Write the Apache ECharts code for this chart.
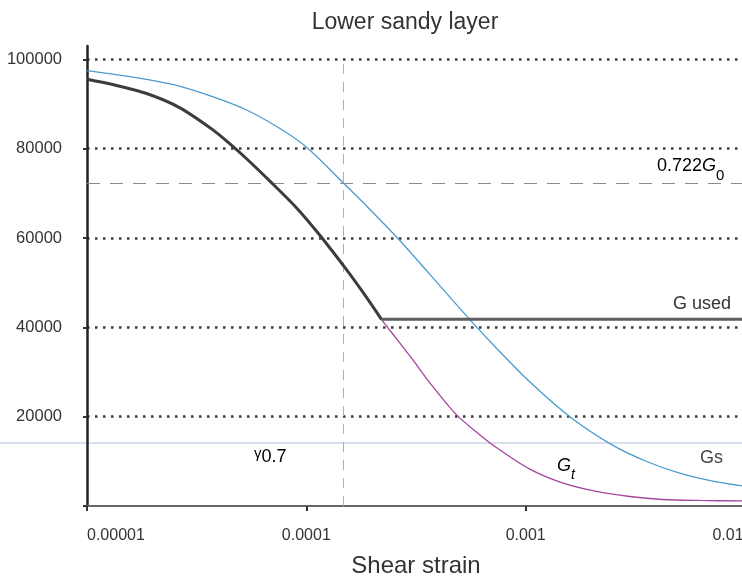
<!DOCTYPE html>
<html>
<head>
<meta charset="utf-8">
<script src="https://cdn.jsdelivr.net/npm/echarts@6/dist/echarts.min.js"></script>
<style>
html,body{margin:0;padding:0;background:#fff;}
#chart{width:742px;height:580px;}
</style>
</head>
<body>
<div id="chart"></div>
<script>
// ---- data ----
const xTickLabels = ['0.00001', '0.0001', '0.001', '0.01'];
const yTicks = [20000, 40000, 60000, 80000, 100000];

// Gs curve (secant modulus)
const gsStrain = [1e-5, 1.31e-5, 1.87e-5, 2.64e-5, 3.74e-5, 5.34e-5, 7.55e-5, 1.0e-4, 1.48e-4, 1.94e-4, 2.58e-4, 3.65e-4, 5.55e-4, 7.38e-4, 1.04e-3, 1.59e-3, 2.49e-3, 3.56e-3, 5.04e-3, 7.13e-3, 1.0e-2];
const gsValues = [97500, 96700, 95540, 94040, 91650, 88670, 84570, 80380, 72250, 66520, 60220, 51910, 41800, 35280, 27870, 20000, 13620, 9960, 7350, 5570, 4400];

// Gt curve (tangent modulus)
const gtStrain = [1e-5, 1.31e-5, 1.87e-5, 2.64e-5, 3.74e-5, 4.47e-5, 5.34e-5, 6.80e-5, 9.03e-5, 1.15e-4, 1.53e-4, 1.81e-4, 2.20e-4, 2.57e-4, 3.05e-4, 3.65e-4, 4.83e-4, 6.17e-4, 7.38e-4, 1.04e-3, 1.47e-3, 2.10e-3, 2.98e-3, 4.21e-3, 6.21e-3, 1.0e-2];
const gtValues = [95570, 94380, 92360, 89210, 84270, 81120, 77750, 72810, 66740, 60670, 52810, 47870, 41800, 37530, 32810, 27640, 20450, 15960, 13030, 8310, 5170, 3260, 2130, 1460, 1240, 1120];

// G used: Gt limited from below
const gUsedMin = 41800;
const g0 = 100000;
const g0Ratio = 0.722;
const gamma07 = 1.48e-4;

// ---- build series data ----
const gsData = gsStrain.map((s, i) => [s, gsValues[i]]);
const gtData = gtStrain.map((s, i) => [s, gtValues[i]]);
const usedCurve = [];
let kinkStrain = null;
for (let i = 0; i < gtStrain.length; i++) {
  if (gtValues[i] >= gUsedMin) usedCurve.push([gtStrain[i], gtValues[i]]);
  if (gtValues[i] <= gUsedMin && kinkStrain === null) kinkStrain = gtStrain[i];
}
const usedFlat = [[kinkStrain, gUsedMin], [gtStrain[gtStrain.length - 1], gUsedMin]];

const FONT = '"Liberation Sans", Arial, Helvetica, sans-serif';
const chart = echarts.init(document.getElementById('chart'), null, {renderer: 'canvas'});

chart.setOption({
  backgroundColor: '#ffffff',
  animation: false,
  textStyle: {fontFamily: FONT},
  title: {
    text: 'Lower sandy layer',
    left: 400, top: 6, textAlign: 'center',
    textStyle: {fontFamily: FONT, fontSize: 23, fontWeight: 'normal', color: '#333'}
  },
  grid: {left: 87, right: -3, top: 46, bottom: 74, containLabel: false, outerBoundsMode: 'none'},
  xAxis: {
    type: 'log', logBase: 10, min: 1e-5, max: 1e-2,
    name: 'Shear strain', nameLocation: 'middle', nameGap: 48,
    nameTextStyle: {fontFamily: FONT, fontSize: 24, color: '#333'},
    axisLine: {show: true, lineStyle: {color: '#666', width: 2}},
    axisTick: {show: true, inside: false, length: 5, lineStyle: {color: '#333', width: 2}},
    minorTick: {show: false},
    splitLine: {show: false},
    axisLabel: {
      fontFamily: FONT, fontSize: 16, color: '#333', margin: 22,
      alignMinLabel: 'left',
      formatter: v => {
        const idx = Math.round(Math.log10(v)) + 5;
        const t = xTickLabels[idx] || '';
        return idx === xTickLabels.length - 1 ? '{r|' + t + '}' : t;
      },
      rich: {r: {fontFamily: FONT, fontSize: 16, color: '#333', padding: [0, 34, 0, 0]}}
    }
  },
  yAxis: {
    type: 'value', min: 0, max: 103000, interval: 20000,
    axisLine: {show: true, lineStyle: {color: '#222', width: 2.5}},
    axisTick: {show: true, length: 4, lineStyle: {color: '#333', width: 2}},
    splitLine: {show: true, showMinLine: false, showMaxLine: false,
      lineStyle: {color: '#3a3a3a', width: 2.5, type: [2.5, 5.5]}},
    axisLabel: {
      fontFamily: FONT, fontSize: 16.5, color: '#333', margin: 25,
      showMaxLabel: false,
      formatter: v => yTicks.indexOf(v) >= 0 ? String(v) : ''
    }
  },
  series: [
    {
      name: 'Gs', type: 'line', data: gsData, smooth: 0.3,
      showSymbol: false, symbol: 'none', z: 3,
      lineStyle: {color: '#4a9bd0', width: 1.3},
      markLine: {
        silent: true, symbol: 'none', label: {show: false},
        data: [
          [{coord: [1e-5, g0 * g0Ratio]}, {coord: [1e-2, g0 * g0Ratio]}],
        ],
        lineStyle: {color: '#8a8a8a', width: 1, type: [13, 10]}
      }
    },
    {
      name: 'Gamma07', type: 'line', data: [], showSymbol: false,
      markLine: {
        silent: true, symbol: 'none', label: {show: false},
        data: [
          [{coord: [gamma07, 0]}, {coord: [gamma07, g0 * 0.99]}]
        ],
        lineStyle: {color: '#b0b0b0', width: 1, type: [10, 8]}
      }
    },
    {
      name: 'Gt', type: 'line', data: gtData, smooth: 0.3,
      showSymbol: false, symbol: 'none', z: 4,
      lineStyle: {color: '#a4469e', width: 1.3}
    },
    {
      name: 'G used', type: 'line', data: usedCurve, smooth: 0.3,
      showSymbol: false, symbol: 'none', z: 5,
      lineStyle: {color: '#3c3c3c', width: 3}
    },
    {
      name: 'G used flat', type: 'line', data: usedFlat, smooth: false,
      showSymbol: false, symbol: 'none', z: 5,
      lineStyle: {color: '#5e5e5e', width: 3}
    }
  ],
  graphic: [
    // faint scan line across the page
    {type: 'line', silent: true, z: 0, shape: {x1: 0, y1: 443, x2: 742, y2: 443},
      style: {stroke: '#c9d6ea', lineWidth: 1.5}},
    {type: 'text', silent: true, z: 10, style: {
      x: 657, y: 183, text: '{a|0.722}{g|G}{s|0}', textVerticalAlign: 'bottom',
      rich: {
        a: {fontFamily: FONT, fontSize: 18, color: '#333', lineHeight: 26, verticalAlign: 'middle'},
        g: {fontFamily: FONT, fontSize: 18, fontStyle: 'italic', color: '#333', lineHeight: 26, verticalAlign: 'middle'},
        s: {fontFamily: FONT, fontSize: 15, color: '#333', lineHeight: 34, verticalAlign: 'bottom'}
      }
    }},
    {type: 'text', silent: true, z: 10, style: {
      x: 673, y: 304, text: 'G used', fontFamily: FONT, fontSize: 18, fill: '#333',
      textVerticalAlign: 'middle'
    }},
    {type: 'text', silent: true, z: 10, style: {
      x: 700, y: 458, text: 'Gs', fontFamily: FONT, fontSize: 18, fill: '#444',
      textVerticalAlign: 'middle'
    }},
    {type: 'text', silent: true, z: 10, style: {
      x: 557, y: 482, text: '{g|G}{s|t}', textVerticalAlign: 'bottom',
      rich: {
        g: {fontFamily: FONT, fontSize: 18, fontStyle: 'italic', color: '#333', lineHeight: 24, verticalAlign: 'middle'},
        s: {fontFamily: FONT, fontSize: 14, fontStyle: 'italic', color: '#333', lineHeight: 32, verticalAlign: 'bottom'}
      }
    }},
    {type: 'text', silent: true, z: 10, style: {
      x: 254, y: 457, text: '{g|γ}{s|0.7}', textVerticalAlign: 'middle',
      rich: {
        g: {fontFamily: FONT, fontSize: 15, color: '#333', verticalAlign: 'top', lineHeight: 22},
        s: {fontFamily: FONT, fontSize: 18, color: '#333', verticalAlign: 'middle', lineHeight: 22}
      }
    }}
  ]
});
</script>
</body>
</html>
